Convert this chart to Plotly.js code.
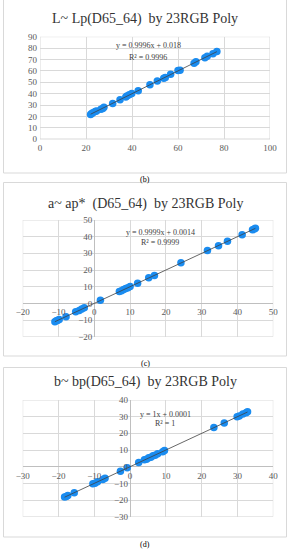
<!DOCTYPE html>
<html>
<head>
<meta charset="utf-8">
<script src="https://cdn.plot.ly/plotly-3.0.1.min.js"></script>
<style>
html,body{margin:0;padding:0;background:#fff;}
#chart{width:291px;height:550px;}
</style>
</head>
<body>
<div id="chart"></div>
<script>
// ---- data ----
const titles = ["L~ Lp(D65_64)  by 23RGB Poly", "a~ ap*  (D65_64)  by 23RGB Poly", "b~ bp(D65_64)  by 23RGB Poly"];
const panelLabels = ["(b)", "(c)", "(d)"];
const eqTexts = ["y = 0.9996x + 0.018", "y = 0.9999x + 0.0014", "y = 1x + 0.0001"];
const r2Texts = ["R² = 0.9996", "R² = 0.9999", "R² = 1"];
const slopes = [0.9996, 0.9999, 1];
const intercepts = [0.018, 0.0014, 0.0001];

const lX = [22.0, 22.5, 23.0, 24.0, 24.6, 26.5, 27.3, 27.8, 31.6, 34.8, 37.3, 37.8, 38.8, 39.9, 42.7, 47.8, 51.0, 53.8, 54.5, 56.8, 60.0, 60.9, 67.0, 67.8, 71.7, 72.7, 75.2, 76.9];
const lY = [21.8, 22.6, 23.2, 24.3, 24.9, 26.3, 27.0, 28.1, 31.5, 34.6, 37.0, 37.9, 39.1, 40.2, 42.6, 47.9, 51.1, 53.6, 54.3, 57.0, 60.3, 60.6, 66.8, 68.0, 71.5, 72.9, 75.1, 77.0];

const aX = [-11.0, -10.6, -10.2, -9.8, -7.9, -5.2, -4.2, -3.5, -2.8, 1.7, 7.0, 7.6, 8.2, 8.8, 9.4, 10.0, 12.1, 15.2, 16.8, 24.2, 31.6, 34.7, 37.2, 41.3, 44.2, 44.7, 45.0];
const aY = [-11.0, -10.5, -10.1, -9.7, -8.0, -5.1, -4.3, -3.4, -2.7, 1.8, 7.1, 7.5, 8.3, 8.9, 9.3, 10.1, 12.0, 15.3, 16.7, 24.3, 31.7, 34.6, 37.3, 41.2, 44.1, 44.6, 45.1];

const bX = [-18.3, -17.8, -17.4, -15.6, -10.4, -9.8, -9.1, -7.6, -7.0, -2.7, -0.8, 2.4, 4.0, 4.6, 5.2, 5.8, 6.4, 7.0, 7.7, 9.1, 9.6, 23.4, 26.3, 29.9, 30.5, 31.5, 32.4, 32.8];
const bY = [-18.2, -17.9, -17.3, -15.7, -10.3, -9.9, -9.0, -7.7, -6.9, -2.8, -0.7, 2.5, 4.1, 4.5, 5.3, 5.7, 6.5, 6.9, 7.8, 9.0, 9.7, 23.5, 26.2, 30.0, 30.4, 31.6, 32.3, 32.9];

const xRanges = [[0, 100], [-20, 50], [-30, 40]];
const yRanges = [[0, 90], [-20, 50], [-30, 40]];

// ---- layout geometry (pixels in 291x550 page) ----
const W = 291, H = 550;
const plotPx = [
  {x0: 40, x1: 270, y0: 36.7, y1: 139.3},
  {x0: 22.7, x1: 273.3, y0: 220, y1: 336.7},
  {x0: 22.7, x1: 273.3, y0: 400, y1: 516.7}
];
const boxPx = [
  {x0: 3.5, x1: 286.5, y0: -1, y1: 173},
  {x0: 3.5, x1: 286.5, y0: 182.5, y1: 356},
  {x0: 3.5, x1: 286.5, y0: 367.5, y1: 537}
];
const titleY = [19, 203.5, 382];
const labelY = [179, 363, 544];
const eqPos = [{x: 148, y: 45.5, y2: 57}, {x: 160, y: 232.5, y2: 242.5}, {x: 165, y: 414, y2: 423}];

const px = v => v / W;
const py = v => 1 - v / H;

const serif = "Liberation Serif, DejaVu Serif, serif";
const tickColor = '#595959';
const gridColor = '#d9d9d9';

const datasets = [[lX, lY], [aX, aY], [bX, bY]];
const traces = [];
const layout = {
  width: W, height: H,
  margin: {l: 0, r: 0, t: 0, b: 0, pad: 0},
  paper_bgcolor: '#ffffff',
  plot_bgcolor: 'rgba(0,0,0,0)',
  showlegend: false,
  shapes: [],
  annotations: []
};

datasets.forEach((d, i) => {
  const sfx = i === 0 ? '' : String(i + 1);
  const xa = 'x' + sfx, ya = 'y' + sfx;
  traces.push({
    x: d[0], y: d[1], type: 'scatter', mode: 'markers',
    xaxis: xa, yaxis: ya,
    marker: {color: '#1a8cf0', size: 7.5, line: {width: 0}},
    hoverinfo: 'skip'
  });
  const xmin = Math.min(...d[0]), xmax = Math.max(...d[0]);
  traces.push({
    x: [xmin, xmax],
    y: [slopes[i] * xmin + intercepts[i], slopes[i] * xmax + intercepts[i]],
    type: 'scatter', mode: 'lines', xaxis: xa, yaxis: ya,
    line: {color: '#404040', width: 0.8},
    hoverinfo: 'skip'
  });
  const p = plotPx[i];
  const xr = xRanges[i], yr = yRanges[i];
  const crossing = i > 0;
  const zeroYpx = p.y1 - (0 - yr[0]) / (yr[1] - yr[0]) * (p.y1 - p.y0);
  const zeroXpx = p.x0 + (0 - xr[0]) / (xr[1] - xr[0]) * (p.x1 - p.x0);
  const xaxis = {
    domain: [px(p.x0), px(p.x1)],
    range: xr, dtick: 10 * (i === 0 ? 2 : 1), tick0: 0,
    showgrid: true, gridcolor: gridColor, gridwidth: 1,
    zeroline: crossing, zerolinecolor: '#bfbfbf', zerolinewidth: 1,
    showline: false, ticks: '',
    tickfont: {family: serif, size: 9, color: tickColor},
    fixedrange: true
  };
  const yaxis = {
    domain: [py(p.y1), py(p.y0)],
    range: yr, dtick: 10, tick0: 0,
    showgrid: true, gridcolor: gridColor, gridwidth: 1,
    zeroline: crossing, zerolinecolor: '#bfbfbf', zerolinewidth: 1,
    showline: false, ticks: '',
    tickfont: {family: serif, size: 9, color: tickColor},
    fixedrange: true
  };
  if (crossing) {
    xaxis.anchor = 'free'; xaxis.position = py(zeroYpx);
    yaxis.anchor = 'free'; yaxis.position = px(zeroXpx);
  } else {
    xaxis.anchor = ya; yaxis.anchor = xa;
  }
  xaxis.ticklabelstandoff = 2;
  yaxis.ticklabelstandoff = 2;
  layout['xaxis' + sfx] = xaxis;
  layout['yaxis' + sfx] = yaxis;

  layout.shapes.push({type: 'rect', xref: xa, yref: ya, x0: xr[0], x1: xr[1], y0: yr[0], y1: yr[1],
    line: {color: gridColor, width: 1}, layer: 'below'});
  if (!crossing) {
    layout.shapes.push({type: 'line', xref: xa, yref: ya, x0: xr[0], x1: xr[1], y0: yr[0], y1: yr[0],
      line: {color: '#bfbfbf', width: 1}, layer: 'below'});
  }
  const b = boxPx[i];
  layout.shapes.push({type: 'rect', xref: 'paper', yref: 'paper',
    x0: px(b.x0), x1: px(b.x1), y0: py(b.y1), y1: py(b.y0),
    line: {color: '#d9d9d9', width: 1}, layer: 'below'});

  layout.annotations.push({text: titles[i], xref: 'paper', yref: 'paper', x: px(145), y: py(titleY[i]),
    xanchor: 'center', yanchor: 'middle', showarrow: false,
    font: {family: serif, size: 14, color: '#333333'}});
  layout.annotations.push({text: panelLabels[i], xref: 'paper', yref: 'paper', x: px(145), y: py(labelY[i]),
    xanchor: 'center', yanchor: 'middle', showarrow: false,
    font: {family: serif, size: 8, color: '#000000'}});
  layout.annotations.push({text: eqTexts[i], xref: 'paper', yref: 'paper', x: px(eqPos[i].x), y: py(eqPos[i].y),
    xanchor: 'center', yanchor: 'middle', showarrow: false,
    font: {family: serif, size: 8, color: '#404040'}});
  layout.annotations.push({text: r2Texts[i], xref: 'paper', yref: 'paper', x: px(eqPos[i].x), y: py(eqPos[i].y2),
    xanchor: 'center', yanchor: 'middle', showarrow: false,
    font: {family: serif, size: 8, color: '#404040'}});
});

Plotly.newPlot('chart', traces, layout, {staticPlot: true, displayModeBar: false});
</script>
</body>
</html>
